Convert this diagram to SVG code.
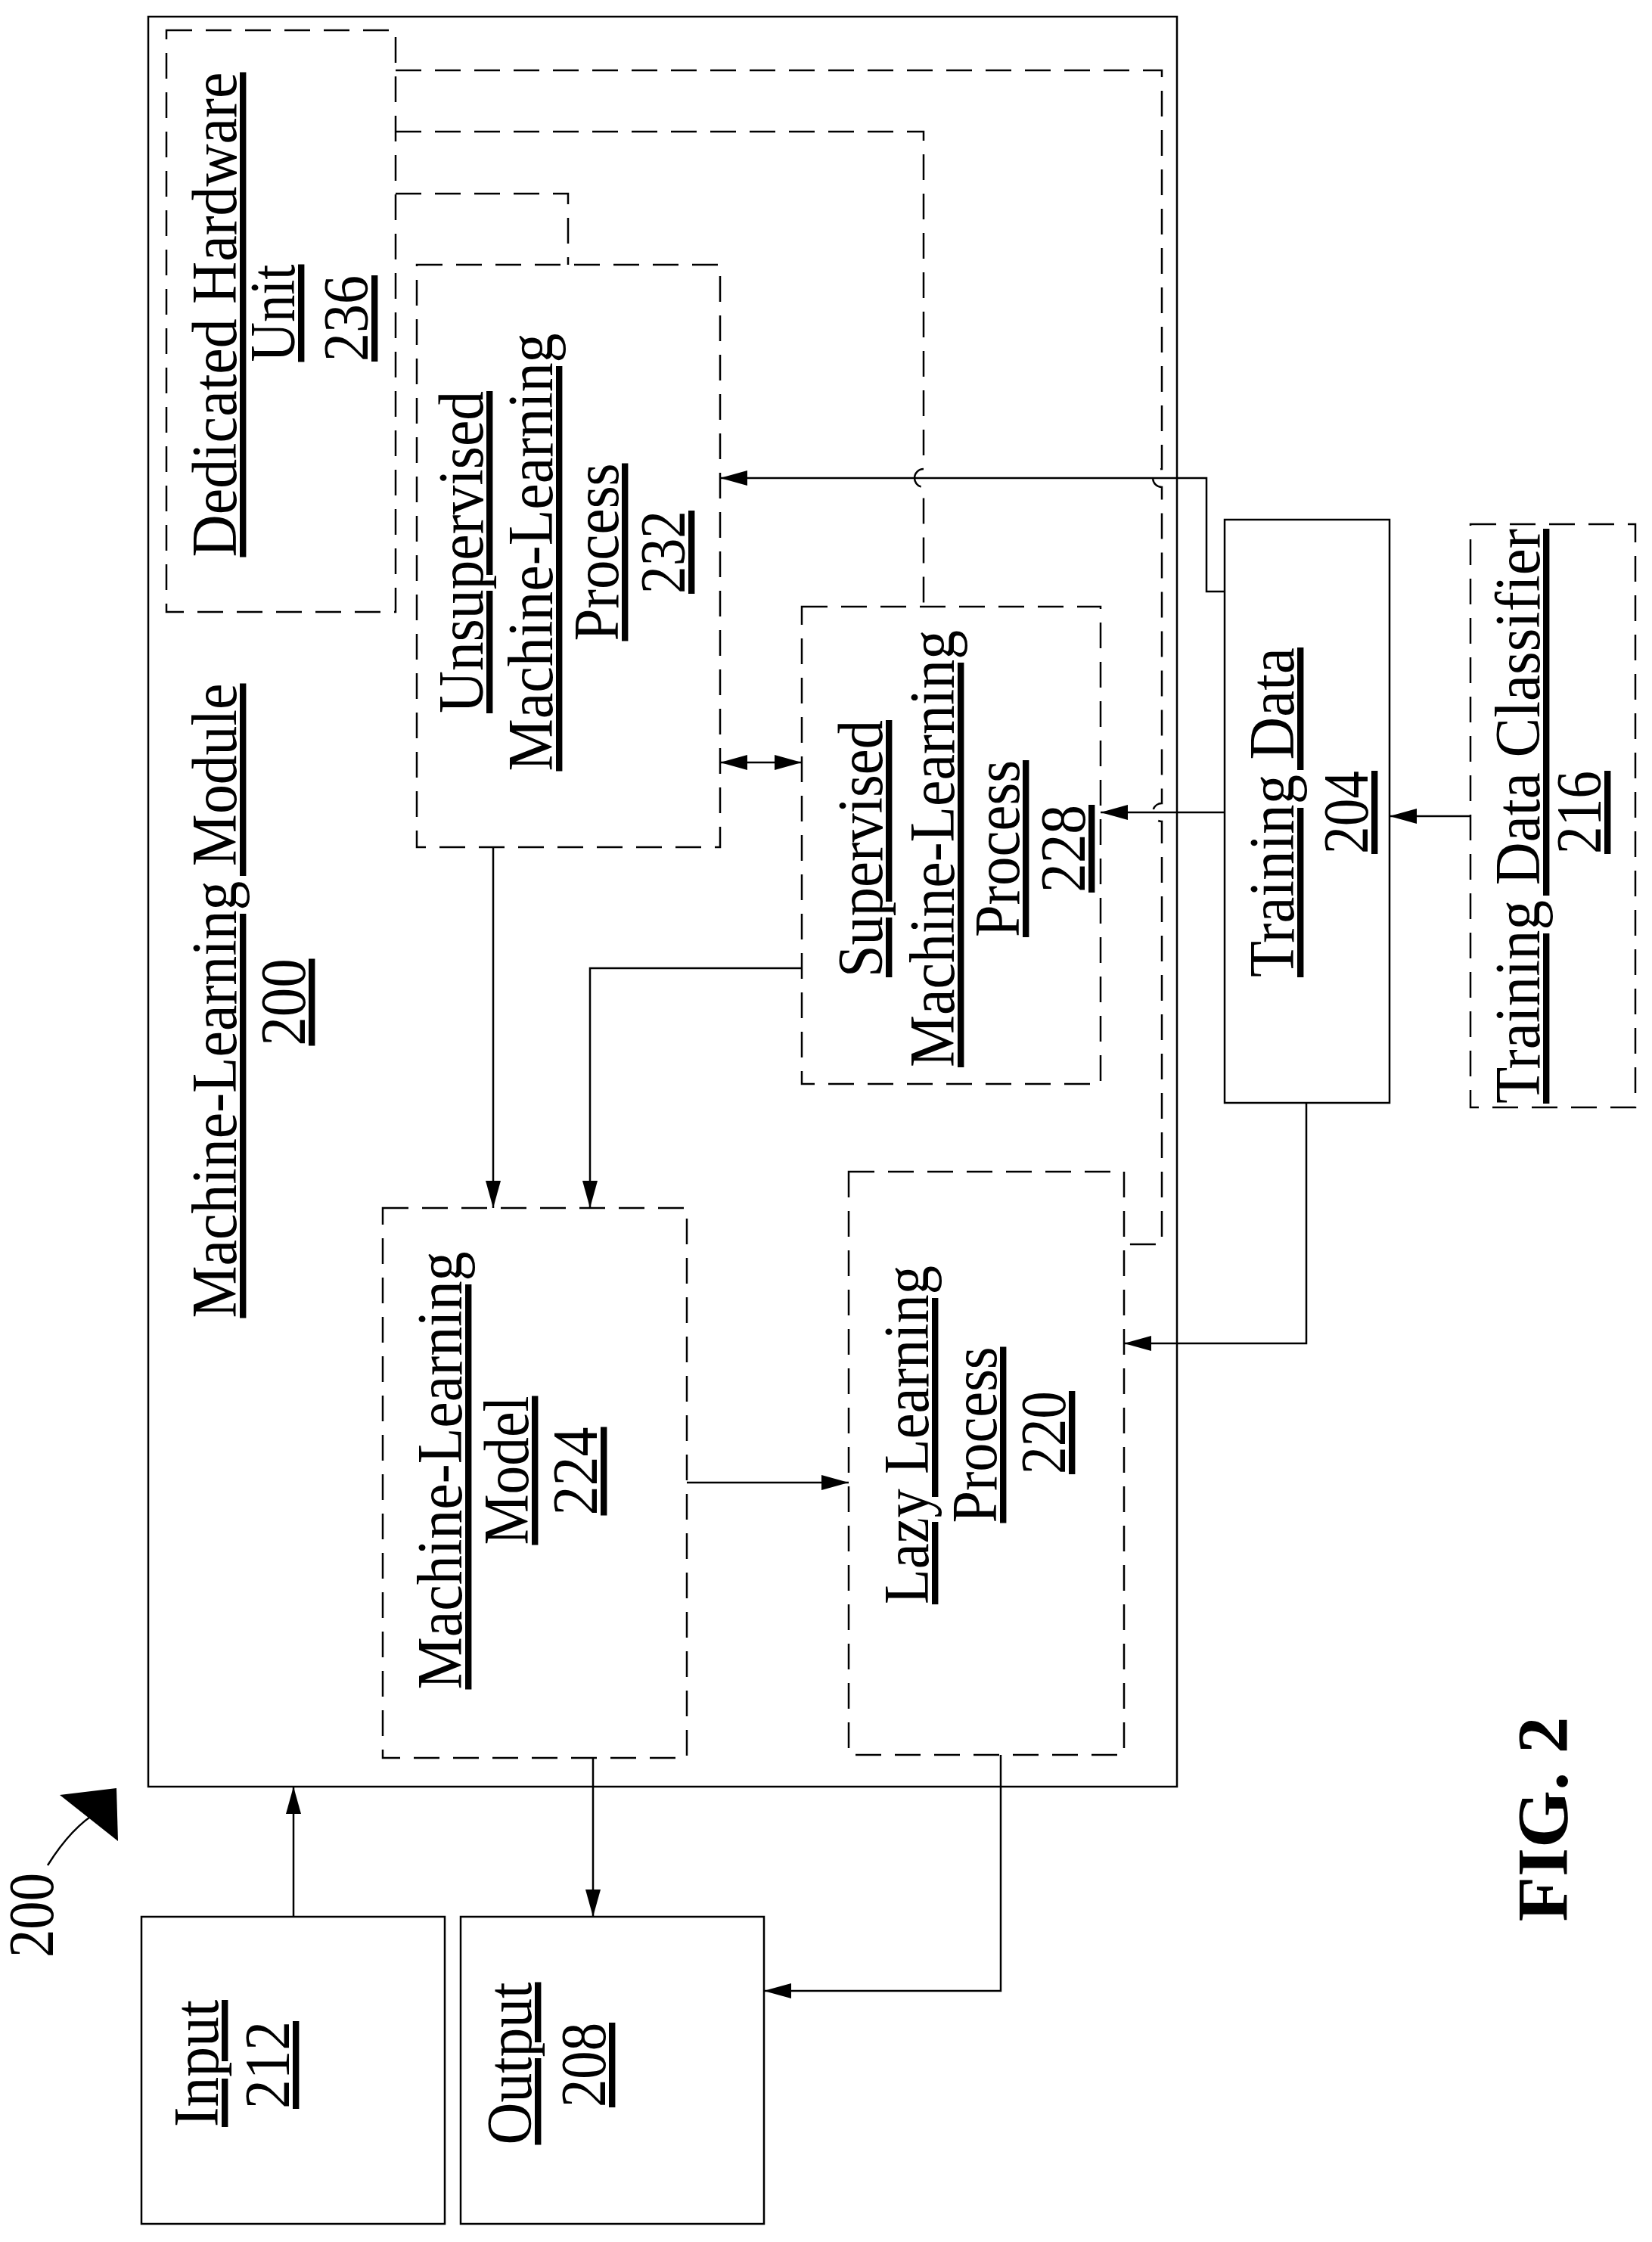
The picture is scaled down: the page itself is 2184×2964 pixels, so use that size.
<svg xmlns="http://www.w3.org/2000/svg" width="2184" height="2964" viewBox="0 0 2184 2964">
<style>
.b{fill:none;stroke:#000;stroke-width:2.5}
.d{fill:none;stroke:#000;stroke-width:2.5;stroke-dasharray:34 18}
.c{fill:none;stroke:#000;stroke-width:2.5}
.cd{fill:none;stroke:#000;stroke-width:2.5;stroke-dasharray:34 18}
text{font-family:"Liberation Serif","Times New Roman",serif;font-size:84px;fill:#000;text-anchor:middle;text-decoration:underline}
</style>
<defs>
<marker id="a" viewBox="0 0 36 20" refX="36" refY="10" markerWidth="36" markerHeight="20" markerUnits="userSpaceOnUse" orient="auto-start-reverse"><path d="M0,0 L36,10 L0,20 Z" fill="#000"/></marker>
</defs>
<rect width="2184" height="2964" fill="#fff"/>
<g id="module200">
<rect class="b" x="196" y="22" width="1360" height="2340"/>
<text transform="translate(312,1323) rotate(-90)" textLength="839" lengthAdjust="spacingAndGlyphs">Machine-Learning Module</text>
<text transform="translate(403,1325) rotate(-90)" textLength="115" lengthAdjust="spacingAndGlyphs">200</text>
</g>
<g id="hw236">
<rect class="d" x="220" y="40" width="303" height="769"/>
<text transform="translate(312,416) rotate(-90)" textLength="641" lengthAdjust="spacingAndGlyphs">Dedicated Hardware</text>
<text transform="translate(389,414) rotate(-90)" textLength="129" lengthAdjust="spacingAndGlyphs">Unit</text>
<text transform="translate(486,421) rotate(-90)" textLength="114" lengthAdjust="spacingAndGlyphs">236</text>
</g>
<g id="unsup232">
<rect class="d" x="551" y="350" width="401" height="770"/>
<text transform="translate(638,730) rotate(-90)" textLength="426" lengthAdjust="spacingAndGlyphs">Unsupervised</text>
<text transform="translate(730,730) rotate(-90)" textLength="579" lengthAdjust="spacingAndGlyphs">Machine-Learning</text>
<text transform="translate(817,730) rotate(-90)" textLength="235" lengthAdjust="spacingAndGlyphs">Process</text>
<text transform="translate(905,730) rotate(-90)" textLength="110" lengthAdjust="spacingAndGlyphs">232</text>
</g>
<g id="sup228">
<rect class="d" x="1060" y="802" width="395" height="631"/>
<text transform="translate(1166,1122) rotate(-90)" textLength="340" lengthAdjust="spacingAndGlyphs">Supervised</text>
<text transform="translate(1261,1122) rotate(-90)" textLength="578" lengthAdjust="spacingAndGlyphs">Machine-Learning</text>
<text transform="translate(1347,1122) rotate(-90)" textLength="234" lengthAdjust="spacingAndGlyphs">Process</text>
<text transform="translate(1434,1122) rotate(-90)" textLength="116" lengthAdjust="spacingAndGlyphs">228</text>
</g>
<g id="train204">
<rect class="b" x="1619" y="687" width="218" height="771"/>
<text transform="translate(1710,1074) rotate(-90)" textLength="436" lengthAdjust="spacingAndGlyphs">Training Data</text>
<text transform="translate(1808,1074) rotate(-90)" textLength="110" lengthAdjust="spacingAndGlyphs">204</text>
</g>
<g id="classifier216">
<rect class="d" x="1944" y="693" width="218" height="771"/>
<text transform="translate(2035,1079) rotate(-90)" textLength="760" lengthAdjust="spacingAndGlyphs">Training Data Classifier</text>
<text transform="translate(2116,1074) rotate(-90)" textLength="110" lengthAdjust="spacingAndGlyphs">216</text>
</g>
<g id="model224">
<rect class="d" x="506" y="1597" width="402" height="727"/>
<text transform="translate(610,1944) rotate(-90)" textLength="579" lengthAdjust="spacingAndGlyphs">Machine-Learning</text>
<text transform="translate(698,1944) rotate(-90)" textLength="197" lengthAdjust="spacingAndGlyphs">Model</text>
<text transform="translate(789,1945) rotate(-90)" textLength="117" lengthAdjust="spacingAndGlyphs">224</text>
</g>
<g id="lazy220">
<rect class="d" x="1122" y="1549" width="364" height="771"/>
<text transform="translate(1227,1897) rotate(-90)" textLength="448" lengthAdjust="spacingAndGlyphs">Lazy Learning</text>
<text transform="translate(1317,1897) rotate(-90)" textLength="233" lengthAdjust="spacingAndGlyphs">Process</text>
<text transform="translate(1408,1894) rotate(-90)" textLength="110" lengthAdjust="spacingAndGlyphs">220</text>
</g>
<g id="input212">
<rect class="b" x="187" y="2534" width="401" height="406"/>
<text transform="translate(288,2728) rotate(-90)" textLength="168" lengthAdjust="spacingAndGlyphs">Input</text>
<text transform="translate(382,2730) rotate(-90)" textLength="116" lengthAdjust="spacingAndGlyphs">212</text>
</g>
<g id="output208">
<rect class="b" x="609" y="2534" width="401" height="406"/>
<text transform="translate(702,2728) rotate(-90)" textLength="215" lengthAdjust="spacingAndGlyphs">Output</text>
<text transform="translate(800,2730) rotate(-90)" textLength="112" lengthAdjust="spacingAndGlyphs">208</text>
</g>
<g id="ref200">
<text transform="translate(70,2532) rotate(-90)" style="text-decoration:none" textLength="112" lengthAdjust="spacingAndGlyphs">200</text>
<path class="c" d="M63,2466 Q95,2415 130,2395" stroke-width="4"/>
<path d="M79,2373 L154,2364 L156,2434 Z" fill="#000"/>
</g>
<g id="fig">
<text transform="translate(2072,2405) rotate(-90)" style="text-decoration:none;font-weight:bold;font-size:96px" textLength="271" lengthAdjust="spacingAndGlyphs">FIG. 2</text>
</g>
<g id="connectors">
<path class="cd" d="M523,93 H1536 V620 A12,12 0 0 0 1536,644 V1062 A12,12 0 0 0 1536,1086 V1645 H1486"/>
<path class="cd" d="M523,174 H1221 V620 A12,12 0 0 0 1221,644 V802"/>
<path class="cd" d="M523,256 H751 V350"/>
<path class="c" d="M1619,782 H1595 V632 H952" marker-end="url(#a)"/>
<path class="c" d="M1619,1074 H1455" marker-end="url(#a)"/>
<path class="c" d="M952,1008 H1060" marker-start="url(#a)" marker-end="url(#a)"/>
<path class="c" d="M652,1120 V1597" marker-end="url(#a)"/>
<path class="c" d="M1060,1280 H780 V1597" marker-end="url(#a)"/>
<path class="c" d="M908,1960 H1122" marker-end="url(#a)"/>
<path class="c" d="M784,2324 V2534" marker-end="url(#a)"/>
<path class="c" d="M388,2534 V2362" marker-end="url(#a)"/>
<path class="c" d="M1323,2320 V2632 H1010" marker-end="url(#a)"/>
<path class="c" d="M1727,1458 V1776 H1486" marker-end="url(#a)"/>
<path class="c" d="M1944,1079 H1837" marker-end="url(#a)"/>
</g>
</svg>
